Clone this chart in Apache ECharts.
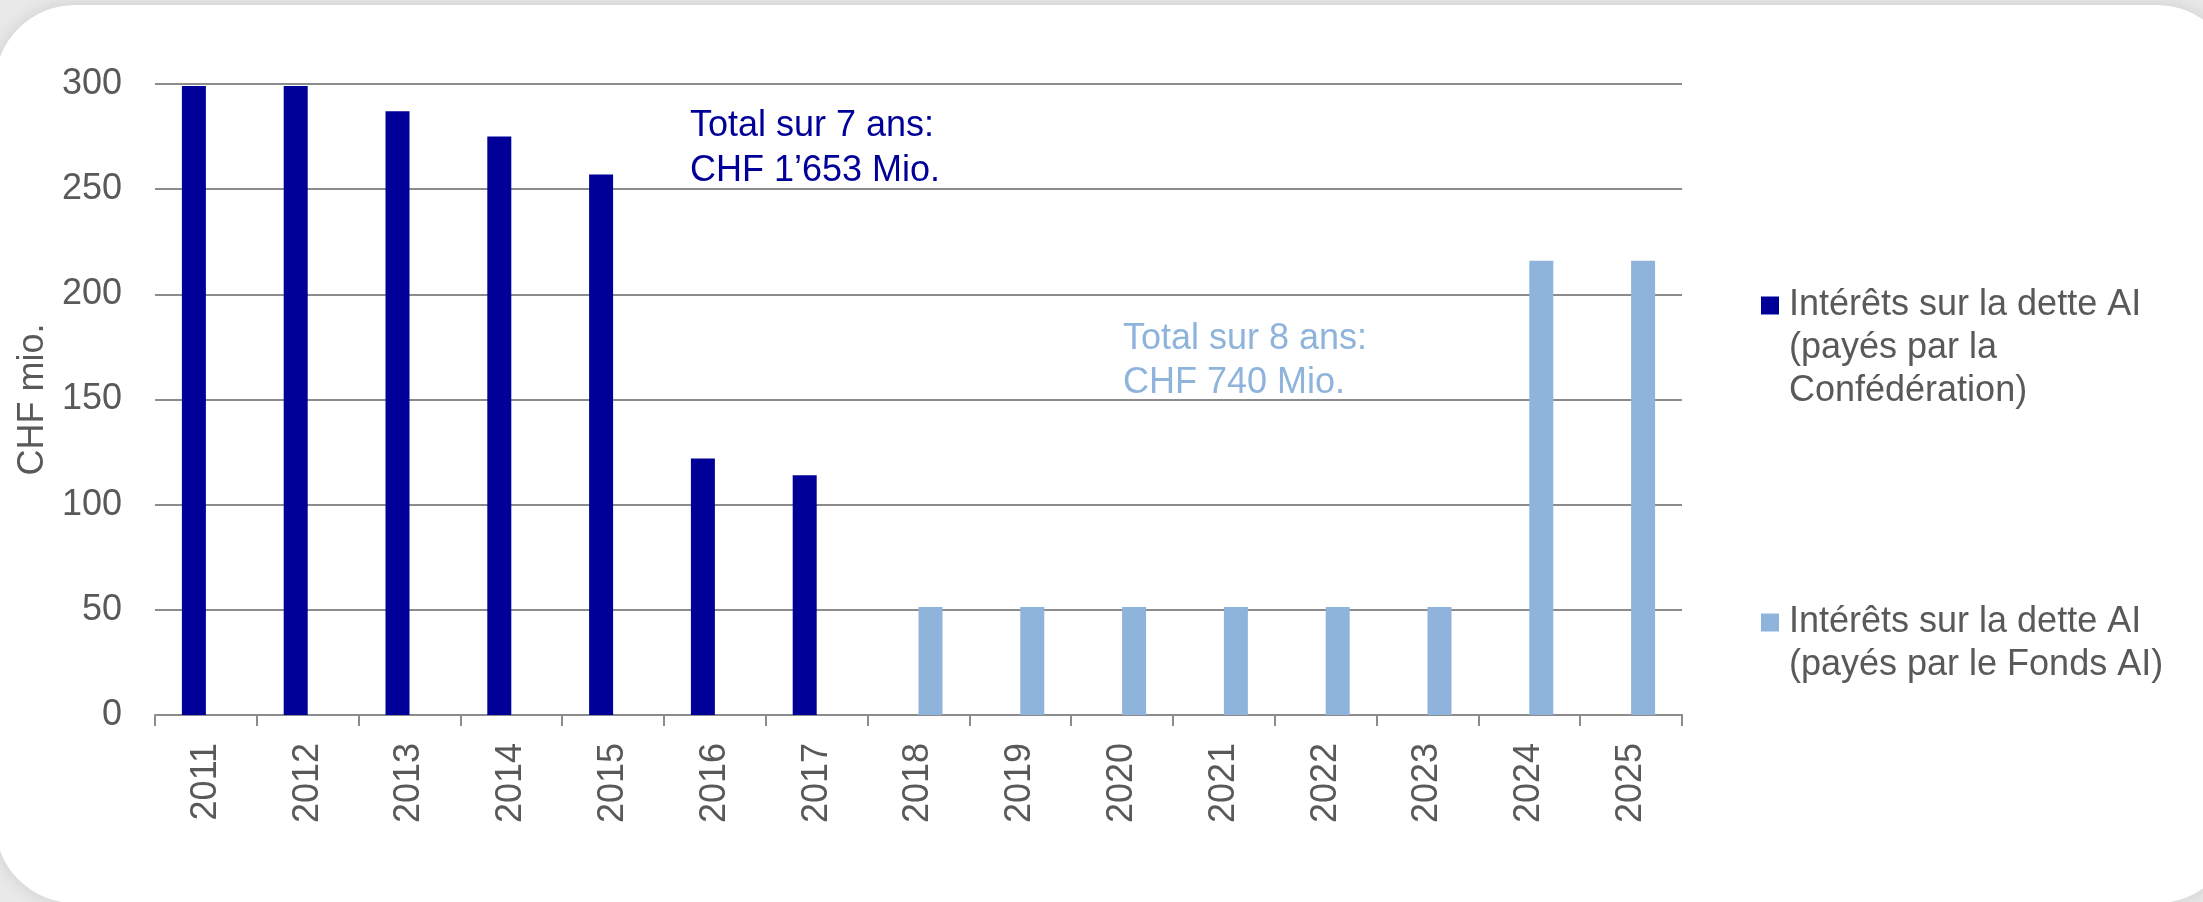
<!DOCTYPE html>
<html>
<head>
<meta charset="utf-8">
<script src="https://cdn.jsdelivr.net/npm/echarts@6/dist/echarts.min.js"></script>
<style>
    html, body { margin: 0; padding: 0; width: 2203px; height: 902px; overflow: hidden; background: #e9e9e9; }
    #card { position: absolute; left: -5px; top: 5px; width: 2242px; height: 898px; background: #fff;
            border-radius: 80px; box-shadow: 0 0 18px rgba(0,0,0,0.12); }
    #chart { position: absolute; left: 0; top: 0; width: 2203px; height: 902px; }
</style>
</head>
<body>
<div id="card"></div>
<div id="chart"></div>
<script>
var years = ['2011','2012','2013','2014','2015','2016','2017','2018','2019','2020','2021','2022','2023','2024','2025'];
// paid by the Confederation (2011-2017)
var confValues = [299, 299, 287, 275, 257, 122, 114, null, null, null, null, null, null, null, null];
// paid by the AI fund (2018-2025)
var fondsValues = [null, null, null, null, null, null, null, 51.3, 51.3, 51.3, 51.3, 51.3, 51.3, 216, 216];
var seriesNames = ['Intérêts sur la dette AI\n(payés par la\nConfédération)', 'Intérêts sur la dette AI\n(payés par le Fonds AI)'];
var noteConf = 'Total sur 7 ans:\nCHF 1’653 Mio.';
var noteFonds = 'Total sur 8 ans:\nCHF 740 Mio.';

var font = '"Liberation Sans", Arial, sans-serif';
var darkBlue = '#000099';
var lightBlue = '#8fb4dc';
var textGrey = '#595959';

// legend marker sits next to the first line: pad the name with empty lines above
function firstLineLegend(name) {
    var n = name.split('\n').length;
    return new Array(n).join('\n') + name;
}

var myChart = echarts.init(document.getElementById('chart'));

var option = {
    backgroundColor: 'transparent',
    animation: false,
    textStyle: { fontFamily: font },
    grid: { left: 155, top: 84, width: 1527, height: 631, containLabel: false },
    legend: [
        {
            data: [seriesNames[0]],
            left: 1761, top: 198, padding: 0,
            icon: 'rect', itemWidth: 18, itemHeight: 18,
            formatter: firstLineLegend,
            textStyle: { fontSize: 36, lineHeight: 43, color: textGrey, fontFamily: font, padding: [0, 0, 0, 5] }
        },
        {
            data: [seriesNames[1]],
            left: 1761, top: 558, padding: 0,
            icon: 'rect', itemWidth: 18, itemHeight: 18,
            formatter: firstLineLegend,
            textStyle: { fontSize: 36, lineHeight: 43, color: textGrey, fontFamily: font, padding: [0, 0, 0, 5] }
        }
    ],
    xAxis: {
        type: 'category',
        data: years,
        boundaryGap: true,
        axisLine: { lineStyle: { color: '#8c8c8c', width: 2 } },
        axisTick: { show: true, interval: 0, length: 11, lineStyle: { color: '#8c8c8c', width: 2 } },
        axisLabel: { rotate: 90, interval: 0, margin: 28, fontSize: 36, color: textGrey, fontFamily: font }
    },
    yAxis: {
        type: 'value',
        min: 0, max: 300, interval: 50,
        name: 'CHF mio.',
        nameLocation: 'middle',
        nameGap: 104,
        nameTextStyle: { fontSize: 36, color: textGrey, fontFamily: font },
        axisLine: { show: false },
        axisTick: { show: false },
        axisLabel: { margin: 33, fontSize: 36, color: textGrey, fontFamily: font },
        splitLine: { lineStyle: { color: '#8c8c8c', width: 2 } }
    },
    graphic: [
        {
            type: 'text', left: 690, top: 104,
            style: { text: noteConf, fontSize: 36, lineHeight: 45, fill: darkBlue, fontFamily: font }
        },
        {
            type: 'text', left: 1123, top: 317,
            style: { text: noteFonds, fontSize: 36, lineHeight: 44, fill: lightBlue, fontFamily: font }
        }
    ],
    series: [
        {
            name: seriesNames[0],
            type: 'bar',
            data: confValues,
            barWidth: 24,
            barGap: '0%',
            itemStyle: { color: darkBlue }
        },
        {
            name: seriesNames[1],
            type: 'bar',
            data: fondsValues,
            barWidth: 24,
            barGap: '0%',
            itemStyle: { color: lightBlue }
        }
    ]
};

myChart.setOption(option);
</script>
</body>
</html>
